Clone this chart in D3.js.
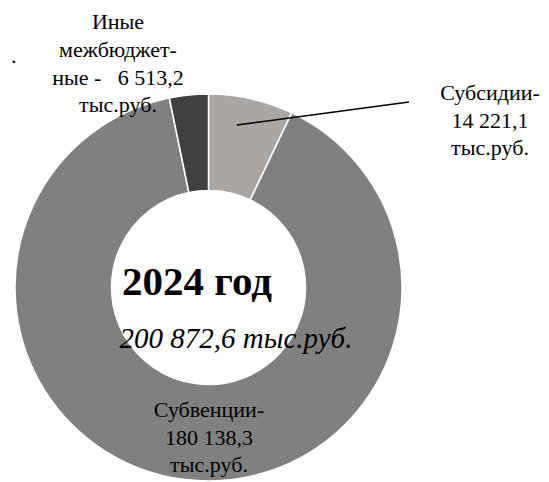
<!DOCTYPE html>
<html><head><meta charset="utf-8">
<script src="https://cdn.jsdelivr.net/npm/d3@7"></script>
<style>
html,body{margin:0;padding:0;background:#fff;}
svg{display:block;}
</style></head>
<body>
<svg id="chart" width="549" height="482"></svg>
<script>
const categories = ["Субсидии", "Субвенции", "Иные межбюджетные"];
const values = [14221.1, 180138.3, 6513.2];
const colors = ["#a9a6a4", "#808080", "#404040"];
const totalLabel = "200 872,6 тыс.руб.";
const yearLabel = "2024 год";
const labelLines = [
  ["Субсидии-", "14 221,1", "тыс.руб."],
  ["Субвенции-", "180 138,3", "тыс.руб."],
  ["Иные", "межбюджет-", "ные -   6 513,2", "тыс.руб."]
];

const FONT = "'Liberation Serif', 'Times New Roman', Times, serif";
const svg = d3.select("#chart");
const cx = 208.5, cy = 287.5, R = 193.5, r = 97;

const pie = d3.pie().sort(null).value(d => d)(values);
const arc = d3.arc().innerRadius(r).outerRadius(R);

const g = svg.append("g").attr("transform", `translate(${cx},${cy})`);
g.selectAll("path").data(pie).join("path")
  .attr("d", arc)
  .attr("fill", (d, i) => colors[i])
  .attr("stroke", "#fff")
  .attr("stroke-width", 1.5);

// leader line for Субсидии
svg.append("line")
  .attr("x1", 237).attr("y1", 125)
  .attr("x2", 409).attr("y2", 102)
  .attr("stroke", "#000").attr("stroke-width", 1.5);

function block(lines, x, y0, dy) {
  const t = svg.append("text").attr("text-anchor", "middle")
    .attr("font-family", FONT).attr("fill", "#000")
    .attr("font-size", 22).style("white-space", "pre");
  lines.forEach((l, i) => {
    t.append("tspan").attr("x", x).attr("y", y0 + i * dy).text(l);
  });
}
block(labelLines[0], 490, 100, 27.5);
block(labelLines[1], 209, 417, 27.5);
block(labelLines[2], 118, 29, 27.8);

svg.append("text").attr("x", 11).attr("y", 63).attr("font-family", FONT)
  .attr("font-size", 22).text(".");

svg.append("text").attr("x", 197).attr("y", 295).attr("text-anchor", "middle")
  .attr("font-family", FONT)
  .attr("font-size", 41).attr("font-weight", "bold").text(yearLabel);
svg.append("text").attr("x", 236).attr("y", 348).attr("text-anchor", "middle")
  .attr("font-family", FONT)
  .attr("font-size", 29).attr("font-style", "italic").text(totalLabel);
</script>
</body></html>
